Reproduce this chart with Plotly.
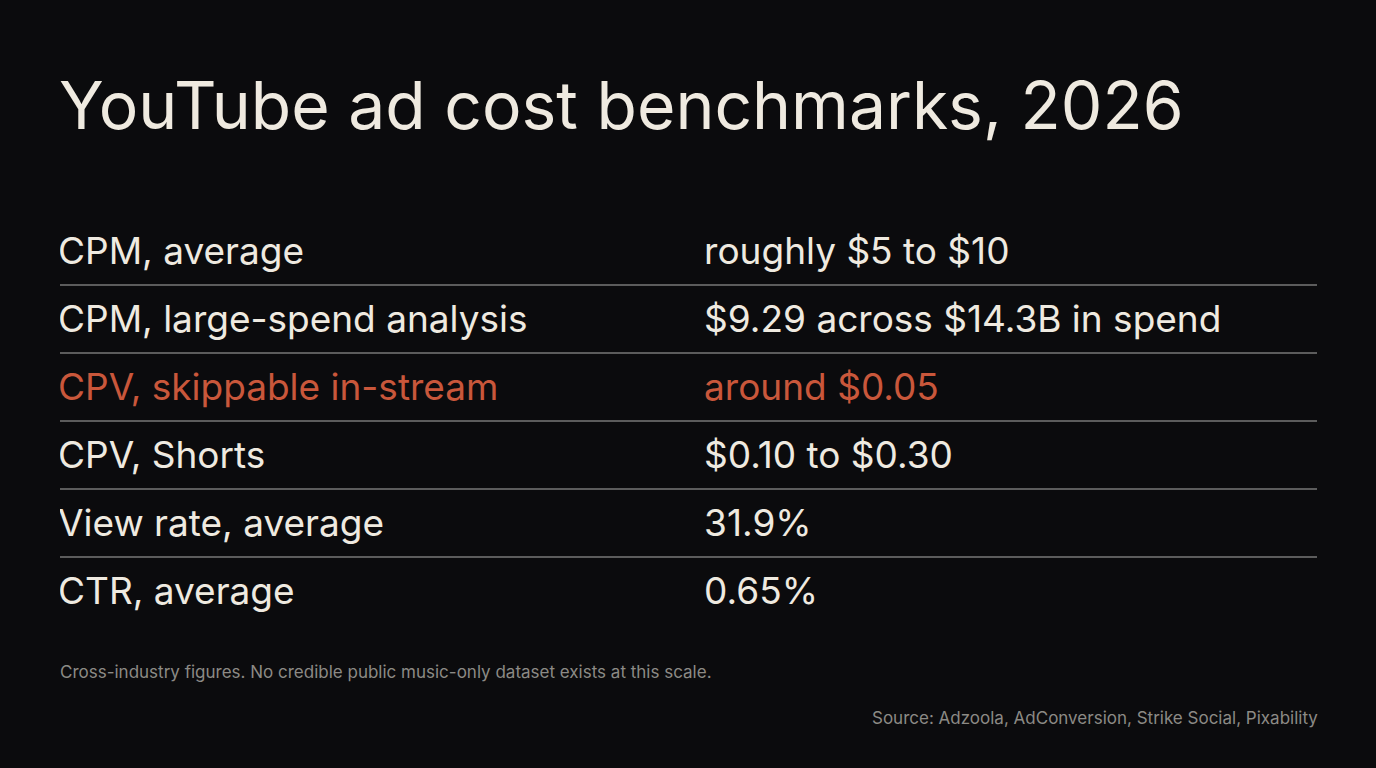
import plotly.graph_objects as go

# table content
metrics = ["CPM, average", "CPM, large-spend analysis", "CPV, skippable in-stream",
           "CPV, Shorts", "View rate, average", "CTR, average"]
values = ["roughly $5 to $10", "$9.29 across $14.3B in spend", "around $0.05",
          "$0.10 to $0.30", "31.9%", "0.65%"]
highlight = [False, False, True, False, False, False]
rows = list(range(len(metrics)))

title = "YouTube ad cost benchmarks, 2026"
note = "Cross-industry figures. No credible public music-only dataset exists at this scale."
source = "Source: Adzoola, AdConversion, Strike Social, Pixability"

BG = "#0b0b0d"
TXT = "#efeae0"
ACCENT = "#c9573b"
GRID = "#5c5c5c"
MUTED = "#8c8a85"
FONT = "Inter"

colors = [ACCENT if h else TXT for h in highlight]
W, H = 1376, 768
PAD = -2 / 1257  # text sits a touch left of the divider start

fig = go.Figure()
fig.add_trace(go.Scatter(x=[PAD] * len(rows), y=rows, text=metrics, mode="text",
                         textposition="middle right",
                         textfont=dict(family=FONT, size=37, color=colors),
                         hoverinfo="skip"))
fig.add_trace(go.Scatter(x=[0.514 + PAD] * len(rows), y=rows, text=values, mode="text",
                         textposition="middle right",
                         textfont=dict(family=FONT, size=37, color=colors),
                         hoverinfo="skip"))

# row i sits at pixel ~255 + 68*i (dividers just above halfway)
top = (0 - 255) / 68
bottom = (H - 255) / 68

fig.update_layout(
    width=W, height=H,
    paper_bgcolor=BG, plot_bgcolor=BG,
    margin=dict(l=0, r=0, t=0, b=0),
    showlegend=False,
    title=dict(text=title, x=59 / W, xanchor="left", xref="paper",
               y=1 - 106 / H, yanchor="middle", yref="paper",
               font=dict(family=FONT, size=66, color=TXT)),
    xaxis=dict(domain=[60 / W, 1317 / W], range=[0, 1], visible=False, fixedrange=True),
    yaxis=dict(range=[bottom, top], showticklabels=False, zeroline=False,
               tickvals=[r + 0.44 for r in rows[:-1]], showgrid=True,
               gridcolor=GRID, gridwidth=1.5, ticks="", fixedrange=True),
)

fig.add_annotation(text=note, x=58 / W, y=1 - 672 / H, xref="paper", yref="paper",
                   xanchor="left", yanchor="middle", showarrow=False,
                   font=dict(family=FONT, size=17, color=MUTED))
fig.add_annotation(text=source, x=1320 / W, y=1 - 718 / H, xref="paper", yref="paper",
                   xanchor="right", yanchor="middle", showarrow=False,
                   font=dict(family=FONT, size=17, color=MUTED))

# drop the default page margin so the slide fills the window
fig.write_html("out.html", config={"displayModeBar": False},
               post_script="document.body.style.margin='0';"
                           "document.body.style.background='#0b0b0d';")
